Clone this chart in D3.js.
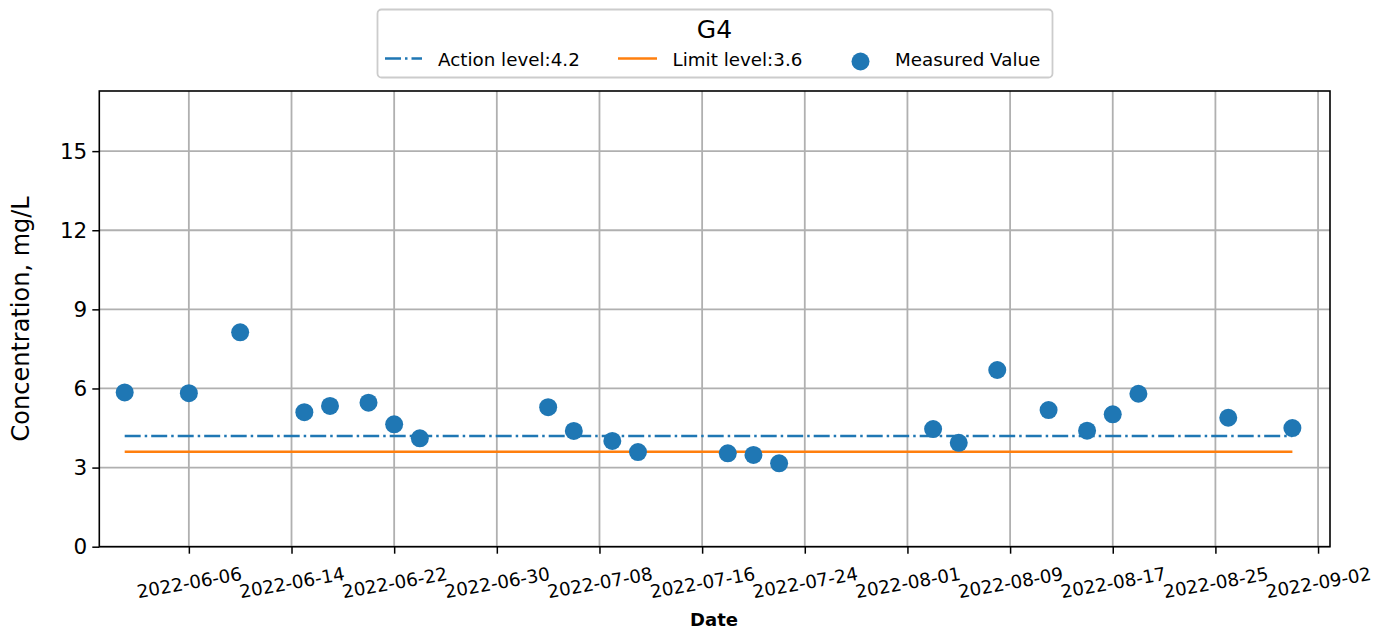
<!DOCTYPE html>
<html>
<head>
<meta charset="utf-8">
<script src="https://cdn.jsdelivr.net/npm/d3@7"></script>
<style>
  html, body { margin: 0; padding: 0; background: #fff; }
  svg { display: block; font-family: "DejaVu Sans", sans-serif; }
</style>
</head>
<body>
<svg id="chart" width="1375" height="629"></svg>
<script>
// ---- data ----
const sampleDates = ["2022-06-01","2022-06-06","2022-06-10","2022-06-15","2022-06-17","2022-06-20","2022-06-22","2022-06-24","2022-07-04","2022-07-06","2022-07-09","2022-07-11","2022-07-18","2022-07-20","2022-07-22","2022-08-03","2022-08-05","2022-08-08","2022-08-12","2022-08-15","2022-08-17","2022-08-19","2022-08-26","2022-08-31"];
const measuredValues = [5.85, 5.82, 8.13, 5.10, 5.34, 5.46, 4.64, 4.11, 5.29, 4.39, 4.01, 3.59, 3.54, 3.48, 3.16, 4.46, 3.94, 6.70, 5.18, 4.40, 5.02, 5.80, 4.89, 4.50];
const actionLevel = 4.2;
const limitLevel = 3.6;
const xTickLabels = ["2022-06-06","2022-06-14","2022-06-22","2022-06-30","2022-07-08","2022-07-16","2022-07-24","2022-08-01","2022-08-09","2022-08-17","2022-08-25","2022-09-02"];
const yTickValues = [0, 3, 6, 9, 12, 15];
const chartTitle = "G4";
const legendLabels = ["Action level:4.2", "Limit level:3.6", "Measured Value"];
const xLabel = "Date";
const yLabel = "Concentration, mg/L";

// ---- layout ----
const W = 1375, H = 629;
const plot = { left: 99.3, right: 1330, top: 91, bottom: 546.7 };
const blue = "#1f77b4", orange = "#ff7f0e", gridColor = "#b0b0b0";

const parse = d3.utcParse("%Y-%m-%d");
const data = sampleDates.map((d, i) => ({ date: parse(d), value: measuredValues[i] }));

const x = d3.scaleUtc()
  .domain([Date.UTC(2022, 4, 30, 0, 30), Date.UTC(2022, 8, 2, 22, 20)])
  .range([plot.left, plot.right]);
const y = d3.scaleLinear().domain([0, 17.28]).range([plot.bottom, plot.top]);

const svg = d3.select("#chart");
svg.append("rect").attr("width", W).attr("height", H).attr("fill", "#fff");

const xTicks = xTickLabels.map(parse);

// grid
const g = svg.append("g");
g.selectAll("line.vg").data(xTicks).join("line")
  .attr("x1", d => x(d)).attr("x2", d => x(d))
  .attr("y1", plot.top).attr("y2", plot.bottom)
  .attr("stroke", gridColor).attr("stroke-width", 1.8);
g.selectAll("line.hg").data(yTickValues).join("line")
  .attr("x1", plot.left).attr("x2", plot.right)
  .attr("y1", d => y(d)).attr("y2", d => y(d))
  .attr("stroke", gridColor).attr("stroke-width", 1.8);

// reference lines
const first = data[0].date, last = data[data.length - 1].date;
svg.append("line")
  .attr("x1", x(first)).attr("x2", x(last))
  .attr("y1", y(actionLevel)).attr("y2", y(actionLevel))
  .attr("stroke", blue).attr("stroke-width", 2.5)
  .attr("stroke-dasharray", "16,4,2.5,4");
svg.append("line")
  .attr("x1", x(first)).attr("x2", x(last))
  .attr("y1", y(limitLevel)).attr("y2", y(limitLevel))
  .attr("stroke", orange).attr("stroke-width", 2.5);

// points
svg.append("g").selectAll("circle").data(data).join("circle")
  .attr("cx", d => x(d.date)).attr("cy", d => y(d.value))
  .attr("r", 9).attr("fill", blue);

// axes
const xAxis = d3.axisBottom(x).tickValues(xTicks).tickSize(7).tickSizeOuter(0)
  .tickFormat(d3.utcFormat("%Y-%m-%d"));
const xg = svg.append("g").attr("transform", `translate(0,${plot.bottom})`).call(xAxis);
xg.select(".domain").remove();
xg.selectAll(".tick line").attr("stroke", "#000").attr("stroke-width", 1.5);
xg.selectAll(".tick text")
  .attr("fill", "#000").attr("font-size", 18.3).attr("font-family", "DejaVu Sans")
  .attr("text-anchor", "middle")
  .attr("y", 0).attr("dy", "0.35em")
  .attr("transform", "translate(0,36) rotate(-10)");

const yAxis = d3.axisLeft(y).tickValues(yTickValues).tickSize(7).tickSizeOuter(0).tickPadding(5);
const yg = svg.append("g").attr("transform", `translate(${plot.left},0)`).call(yAxis);
yg.select(".domain").remove();
yg.selectAll(".tick line").attr("stroke", "#000").attr("stroke-width", 1.5);
yg.selectAll(".tick text").attr("fill", "#000").attr("font-size", 21.5).attr("font-family", "DejaVu Sans");

// frame
svg.append("rect")
  .attr("x", plot.left).attr("y", plot.top)
  .attr("width", plot.right - plot.left).attr("height", plot.bottom - plot.top)
  .attr("fill", "none").attr("stroke", "#000").attr("stroke-width", 1.6);

// axis labels
svg.append("text").attr("x", 714).attr("y", 626).attr("text-anchor", "middle")
  .attr("font-weight", "bold").attr("font-size", 18).text(xLabel);
svg.append("text").attr("transform", `translate(29,${(plot.top + plot.bottom) / 2}) rotate(-90)`)
  .attr("text-anchor", "middle").attr("font-size", 24).text(yLabel);

// legend
const lg = svg.append("g");
lg.append("rect").attr("x", 377.5).attr("y", 9.5).attr("width", 675).attr("height", 68)
  .attr("rx", 4).attr("fill", "#fff").attr("fill-opacity", 0.8)
  .attr("stroke", "#cccccc").attr("stroke-width", 1.8);
lg.append("text").attr("x", 714.5).attr("y", 38).attr("text-anchor", "middle")
  .attr("font-size", 25).text(chartTitle);
lg.append("line").attr("x1", 385).attr("x2", 422).attr("y1", 58.5).attr("y2", 58.5)
  .attr("stroke", blue).attr("stroke-width", 2.5).attr("stroke-dasharray", "16,4,2.5,4");
lg.append("text").attr("x", 438).attr("y", 66).attr("font-size", 18.3).text(legendLabels[0]);
lg.append("line").attr("x1", 618).attr("x2", 657).attr("y1", 58.5).attr("y2", 58.5)
  .attr("stroke", orange).attr("stroke-width", 2.5);
lg.append("text").attr("x", 672.5).attr("y", 66).attr("font-size", 18.3).text(legendLabels[1]);
lg.append("circle").attr("cx", 860.5).attr("cy", 61.5).attr("r", 9).attr("fill", blue);
lg.append("text").attr("x", 895).attr("y", 66).attr("font-size", 18.3).text(legendLabels[2]);
</script>
</body>
</html>
